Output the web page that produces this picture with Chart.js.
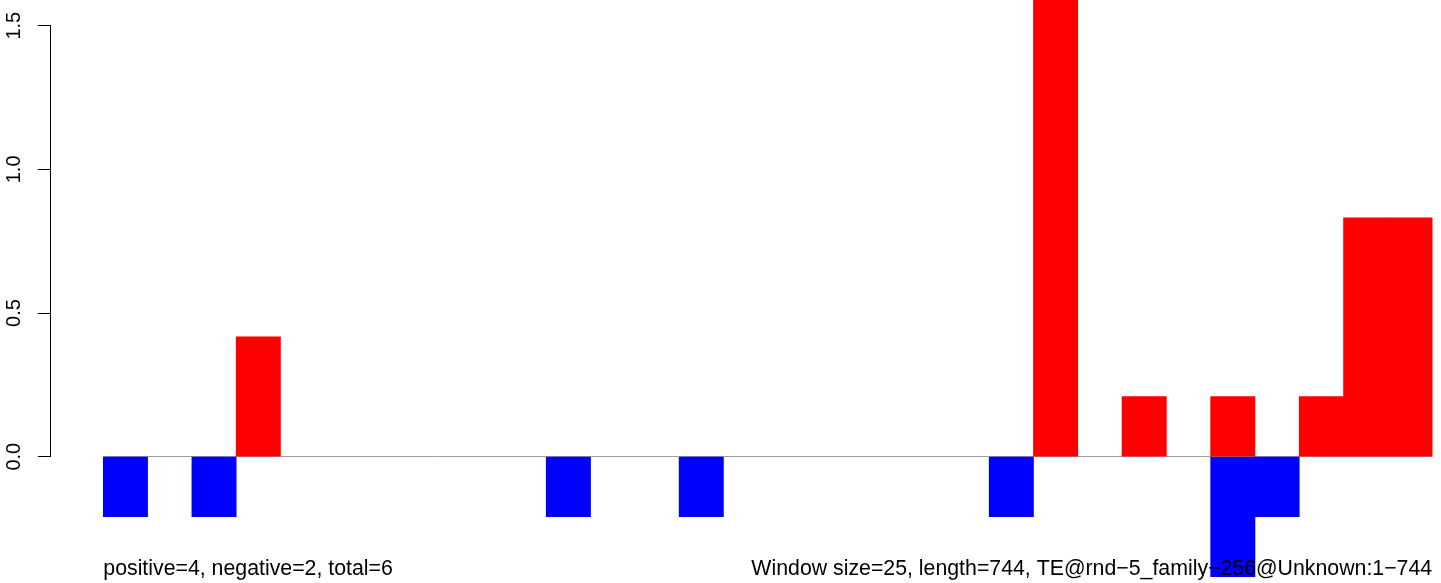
<!DOCTYPE html>
<html>
<head>
<meta charset="utf-8">
<script src="https://cdn.jsdelivr.net/npm/chart.js@4.4.1/dist/chart.umd.min.js"></script>
<style>
  html, body { margin: 0; padding: 0; background: #fff; }
  #c { display: block; }
</style>
</head>
<body>
<canvas id="c" width="1441" height="583"></canvas>
<script>
// Window index (0-based) for each of the 30 windows of size 25 over length 744
const windows = Array.from({length: 30}, (_, i) => i);
// Positive-strand values per window (red); null = no bar
const positive = [null, null, null, 0.417, null, null, null, null, null, null,
                  null, null, null, null, null, null, null, null, null, null,
                  null, 1.67, null, 0.209, null, 0.209, null, 0.209, 0.831, 0.831];
// Negative-strand values per window (blue); null = no bar
const negative = [-0.209, null, -0.209, null, null, null, null, null, null, null,
                  -0.209, null, null, -0.209, null, null, null, null, null, null,
                  -0.209, null, null, null, null, -0.418, -0.209, null, null, null];
const yTicks = [0, 0.5, 1, 1.5];
const yTickLabels = ['0.0', '0.5', '1.0', '1.5'];
const leftText = 'positive=4, negative=2, total=6';
const rightText = 'Window size=25, length=744, TE@rnd\u22125_family\u2212256@Unknown:1\u2212744';

const FONT = '"Liberation Sans", Arial, Helvetica, sans-serif';

function align(chart, pixel, width) {
  const half = width / 2;
  return Math.round(pixel - half) + half;
}

const decor = {
  id: 'decor',
  beforeDatasetsDraw(chart) {
    const {ctx, scales: {x, y}} = chart;
    ctx.save();
    // grey zero line across the windows
    const y0 = align(chart, y.getPixelForValue(0), 1);
    ctx.strokeStyle = '#a0a0a0';
    ctx.lineWidth = 1;
    ctx.beginPath();
    ctx.moveTo(x.getPixelForValue(windows[0]), y0);
    ctx.lineTo(x.getPixelForValue(windows.length), y0);
    ctx.stroke();
    // y axis line spanning the tick range
    const ax = align(chart, chart.chartArea.left, 1);
    ctx.strokeStyle = '#000';
    ctx.beginPath();
    ctx.moveTo(ax, align(chart, y.getPixelForValue(yTicks[0]), 1));
    ctx.lineTo(ax, align(chart, y.getPixelForValue(yTicks[yTicks.length - 1]), 1));
    ctx.stroke();
    ctx.restore();
  },
  afterDraw(chart) {
    const {ctx, scales: {x}} = chart;
    ctx.save();
    ctx.fillStyle = '#000';
    ctx.font = '21.3px ' + FONT;
    ctx.textBaseline = 'alphabetic';
    ctx.textAlign = 'left';
    ctx.fillText(leftText, x.getPixelForValue(windows[0]), 575);
    ctx.textAlign = 'right';
    ctx.fillText(rightText, x.getPixelForValue(windows.length), 575);
    ctx.restore();
  }
};

new Chart(document.getElementById('c'), {
  type: 'bar',
  data: {
    datasets: [
      {
        data: positive.map((v, i) => ({x: windows[i] + 0.5, y: v})),
        backgroundColor: '#ff0000',
        borderWidth: 0
      },
      {
        data: negative.map((v, i) => ({x: windows[i] + 0.5, y: v})),
        backgroundColor: '#0000ff',
        borderWidth: 0
      }
    ]
  },
  options: {
    responsive: false,
    animation: false,
    devicePixelRatio: 1,
    layout: {padding: 0},
    datasets: {bar: {categoryPercentage: 1, barPercentage: 1}},
    plugins: {legend: {display: false}, tooltip: {enabled: false}},
    scales: {
      x: {
        type: 'linear',
        stacked: true,
        min: -1.192,
        max: 30.2,
        display: false,
        afterBuildTicks(s) { s.ticks = []; }
      },
      y: {
        stacked: true,
        min: -0.4396,
        max: 1.5895,
        afterBuildTicks(s) { s.ticks = yTicks.map(v => ({value: v})); },
        afterFit(s) { s.width = 50.5; s.paddingTop = 0; s.paddingBottom = 0; },
        border: {display: false},
        grid: {
          drawOnChartArea: false,
          drawTicks: true,
          tickLength: 12.6,
          color: '#000',
          lineWidth: 1
        },
        ticks: {
          autoSkip: false,
          minRotation: 90,
          maxRotation: 90,
          crossAlign: 'center',
          padding: 9.8,
          color: '#000',
          font: {family: FONT, size: 20},
          callback: (v) => yTickLabels[yTicks.indexOf(v)]
        }
      }
    }
  },
  plugins: [decor]
});
</script>
</body>
</html>
